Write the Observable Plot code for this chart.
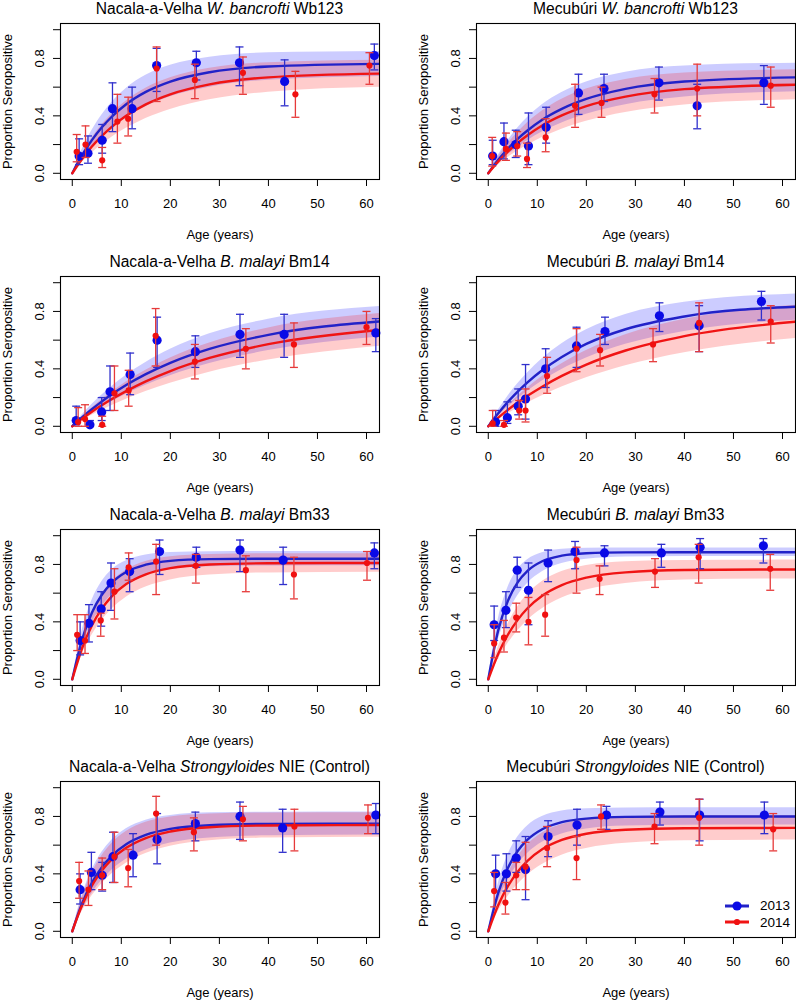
<!DOCTYPE html>
<html><head><meta charset="utf-8">
<script src="https://cdn.jsdelivr.net/npm/d3@7"></script>
<script src="https://cdn.jsdelivr.net/npm/@observablehq/plot@0.6"></script>
<style>
body{margin:0;background:#fff;}
#page{position:relative;width:796px;height:1000px;overflow:hidden;background:#fff;font-family:"Liberation Sans",Arial,Helvetica,sans-serif;color:#000;}
.panel{position:absolute;width:398px;height:250px;}
.panel svg{position:absolute;left:0;top:0;}
.ptitle{position:absolute;left:60px;width:319px;top:1px;text-align:center;font-size:15.6px;line-height:15.6px;white-space:nowrap;}
.legrow{position:absolute;left:724px;height:16px;display:flex;align-items:center;font-size:13.5px;}
.legrow span{margin-left:10px;}
</style></head>
<body><div id="page"></div>
<script>
// ---------- shared axes ----------
const xTicks = [0, 10, 20, 30, 40, 50, 60];
const yTicks = [0, 0.2, 0.4, 0.6, 0.8, 1.0];
const yTickLabelled = [0, 0.4, 0.8];
const xTitle = "Age (years)";
const yTitle = "Proportion Seropositive";
const seriesNames = ["2013", "2014"];
const fitAges = [0, 2, 4, 6, 8, 11, 15, 20, 28, 40, 62.65];

// ---------- Panel 1: Nacala-a-Velha W. bancrofti Wb123 ----------
const p1_13_age = [1.4, 3.2, 6.1, 8.2, 12.2, 17.2, 25.3, 34.1, 43.3, 61.6];
const p1_13_p   = [0.12, 0.14, 0.23, 0.45, 0.45, 0.75, 0.77, 0.77, 0.64, 0.82];
const p1_13_lo  = [0.06, 0.07, 0.14, 0.29, 0.31, 0.57, 0.65, 0.61, 0.47, 0.72];
const p1_13_hi  = [0.24, 0.26, 0.34, 0.63, 0.60, 0.87, 0.85, 0.88, 0.79, 0.90];
const p1_14_age = [0.9, 2.7, 6.1, 9.2, 11.4, 17.2, 25.0, 34.8, 45.5, 60.6];
const p1_14_p   = [0.15, 0.20, 0.09, 0.36, 0.38, 0.73, 0.65, 0.70, 0.55, 0.75];
const p1_14_lo  = [0.08, 0.11, 0.04, 0.21, 0.26, 0.50, 0.52, 0.55, 0.39, 0.62];
const p1_14_hi  = [0.27, 0.33, 0.18, 0.55, 0.53, 0.88, 0.76, 0.81, 0.71, 0.84];
const p1_13_fit   = [0, 0.126, 0.231, 0.319, 0.392, 0.481, 0.567, 0.639, 0.704, 0.744, 0.762];
const p1_13_fitLo = [0, 0.097, 0.180, 0.250, 0.311, 0.387, 0.464, 0.533, 0.600, 0.648, 0.674];
const p1_13_fitHi = [0, 0.165, 0.298, 0.405, 0.492, 0.591, 0.682, 0.752, 0.808, 0.839, 0.849];
const p1_14_fit   = [0, 0.100, 0.186, 0.259, 0.322, 0.400, 0.480, 0.550, 0.619, 0.668, 0.694];
const p1_14_fitLo = [0, 0.075, 0.141, 0.198, 0.249, 0.313, 0.382, 0.445, 0.512, 0.565, 0.600];
const p1_14_fitHi = [0, 0.134, 0.244, 0.336, 0.412, 0.504, 0.593, 0.665, 0.731, 0.770, 0.788];

// ---------- Panel 2: Mecubúri W. bancrofti Wb123 ----------
const p2_13_age = [0.9, 3.2, 5.6, 8.2, 11.8, 18.4, 23.6, 34.8, 42.6, 56.2];
const p2_13_p   = [0.12, 0.22, 0.20, 0.19, 0.32, 0.56, 0.59, 0.63, 0.47, 0.63];
const p2_13_lo  = [0.06, 0.10, 0.11, 0.06, 0.21, 0.41, 0.50, 0.51, 0.31, 0.48];
const p2_13_hi  = [0.23, 0.35, 0.30, 0.42, 0.46, 0.69, 0.69, 0.74, 0.62, 0.75];
const p2_14_age = [0.8, 3.6, 5.9, 7.9, 11.7, 17.7, 23.1, 33.9, 42.6, 57.6];
const p2_14_p   = [0.12, 0.17, 0.19, 0.10, 0.25, 0.47, 0.49, 0.55, 0.59, 0.61];
const p2_14_lo  = [0.05, 0.09, 0.12, 0.04, 0.15, 0.32, 0.39, 0.42, 0.40, 0.46];
const p2_14_hi  = [0.25, 0.28, 0.29, 0.21, 0.38, 0.62, 0.60, 0.66, 0.76, 0.74];
const p2_13_fit   = [0, 0.092, 0.171, 0.240, 0.298, 0.373, 0.449, 0.518, 0.588, 0.639, 0.668];
const p2_13_fitLo = [0, 0.068, 0.128, 0.180, 0.227, 0.287, 0.351, 0.412, 0.478, 0.531, 0.568];
const p2_13_fitHi = [0, 0.124, 0.227, 0.315, 0.388, 0.477, 0.563, 0.636, 0.704, 0.747, 0.767];
const p2_14_fit   = [0, 0.081, 0.151, 0.212, 0.265, 0.333, 0.403, 0.468, 0.534, 0.586, 0.617];
const p2_14_fitLo = [0, 0.058, 0.110, 0.156, 0.196, 0.249, 0.307, 0.362, 0.423, 0.475, 0.512];
const p2_14_fitHi = [0, 0.111, 0.205, 0.284, 0.352, 0.434, 0.516, 0.587, 0.654, 0.699, 0.721];

// ---------- Panel 3: Nacala-a-Velha B. malayi Bm14 ----------
const p3_13_age = [0.8, 3.6, 6.0, 7.7, 11.8, 17.3, 25.1, 34.2, 43.2, 61.9];
const p3_13_p   = [0.04, 0.01, 0.10, 0.24, 0.36, 0.60, 0.52, 0.64, 0.64, 0.65];
const p3_13_lo  = [0.01, 0.00, 0.04, 0.11, 0.22, 0.41, 0.41, 0.48, 0.48, 0.52];
const p3_13_hi  = [0.14, 0.04, 0.20, 0.42, 0.51, 0.76, 0.63, 0.78, 0.78, 0.75];
const p3_14_age = [1.2, 2.6, 6.1, 8.6, 11.5, 17.0, 25.0, 35.4, 45.2, 60.0];
const p3_14_p   = [0.03, 0.05, 0.01, 0.23, 0.25, 0.63, 0.45, 0.54, 0.57, 0.69];
const p3_14_lo  = [0.00, 0.00, 0.00, 0.11, 0.14, 0.42, 0.33, 0.40, 0.41, 0.57];
const p3_14_hi  = [0.13, 0.15, 0.07, 0.42, 0.39, 0.82, 0.57, 0.68, 0.72, 0.80];
const p3_13_fit   = [0, 0.062, 0.119, 0.172, 0.221, 0.287, 0.363, 0.442, 0.539, 0.637, 0.730];
const p3_13_fitLo = [0, 0.048, 0.092, 0.132, 0.171, 0.224, 0.286, 0.352, 0.437, 0.527, 0.622];
const p3_13_fitHi = [0, 0.079, 0.151, 0.216, 0.276, 0.356, 0.445, 0.536, 0.644, 0.746, 0.834];
const p3_14_fit   = [0, 0.052, 0.101, 0.146, 0.188, 0.245, 0.313, 0.385, 0.476, 0.572, 0.671];
const p3_14_fitLo = [0, 0.039, 0.076, 0.111, 0.143, 0.188, 0.242, 0.300, 0.377, 0.462, 0.557];
const p3_14_fitHi = [0, 0.067, 0.128, 0.185, 0.238, 0.309, 0.390, 0.476, 0.580, 0.685, 0.785];

// ---------- Panel 4: Mecubúri B. malayi Bm14 ----------
const p4_13_age = [1.5, 3.9, 6.1, 7.6, 11.7, 18.0, 23.8, 34.9, 43.0, 55.7];
const p4_13_p   = [0.03, 0.06, 0.14, 0.19, 0.40, 0.56, 0.66, 0.77, 0.70, 0.87];
const p4_13_lo  = [0.00, 0.02, 0.08, 0.05, 0.27, 0.41, 0.57, 0.66, 0.52, 0.74];
const p4_13_hi  = [0.11, 0.17, 0.26, 0.43, 0.54, 0.69, 0.76, 0.86, 0.84, 0.94];
const p4_14_age = [0.9, 3.2, 6.3, 7.6, 12.0, 18.0, 22.8, 33.6, 43.0, 57.6];
const p4_14_p   = [0.02, 0.01, 0.11, 0.11, 0.35, 0.54, 0.53, 0.57, 0.72, 0.73];
const p4_14_lo  = [0.00, 0.00, 0.05, 0.03, 0.23, 0.38, 0.42, 0.45, 0.52, 0.58];
const p4_14_hi  = [0.11, 0.04, 0.18, 0.26, 0.48, 0.68, 0.64, 0.68, 0.86, 0.84];
const p4_13_fit   = [0, 0.089, 0.170, 0.242, 0.306, 0.390, 0.483, 0.574, 0.676, 0.765, 0.833];
const p4_13_fitLo = [0, 0.070, 0.134, 0.192, 0.244, 0.315, 0.395, 0.475, 0.571, 0.661, 0.739];
const p4_13_fitHi = [0, 0.111, 0.210, 0.296, 0.372, 0.470, 0.575, 0.673, 0.779, 0.864, 0.922];
const p4_14_fit   = [0, 0.059, 0.114, 0.165, 0.212, 0.276, 0.351, 0.430, 0.528, 0.628, 0.728];
const p4_14_fitLo = [0, 0.045, 0.087, 0.126, 0.162, 0.213, 0.273, 0.338, 0.422, 0.513, 0.612];
const p4_14_fitHi = [0, 0.076, 0.145, 0.209, 0.267, 0.346, 0.435, 0.527, 0.637, 0.745, 0.843];

// ---------- Panel 5: Nacala-a-Velha B. malayi Bm33 ----------
const p5_13_age = [1.6, 3.4, 5.9, 7.9, 11.7, 17.8, 25.3, 34.2, 43.0, 61.6];
const p5_13_p   = [0.27, 0.39, 0.49, 0.67, 0.75, 0.89, 0.85, 0.90, 0.83, 0.88];
const p5_13_lo  = [0.17, 0.26, 0.37, 0.48, 0.61, 0.73, 0.78, 0.75, 0.66, 0.77];
const p5_13_hi  = [0.40, 0.52, 0.61, 0.81, 0.84, 0.97, 0.92, 0.97, 0.92, 0.95];
const p5_14_age = [1.0, 2.6, 5.8, 8.6, 11.5, 17.1, 25.2, 35.4, 45.2, 60.1];
const p5_14_p   = [0.31, 0.27, 0.41, 0.61, 0.78, 0.82, 0.79, 0.76, 0.73, 0.81];
const p5_14_lo  = [0.20, 0.18, 0.30, 0.42, 0.69, 0.59, 0.67, 0.61, 0.56, 0.69];
const p5_14_hi  = [0.45, 0.45, 0.46, 0.77, 0.88, 0.94, 0.87, 0.86, 0.85, 0.89];
const p5_13_fit   = [0, 0.277, 0.463, 0.587, 0.670, 0.747, 0.798, 0.825, 0.837, 0.840, 0.840];
const p5_13_fitLo = [0, 0.228, 0.390, 0.505, 0.587, 0.668, 0.728, 0.764, 0.783, 0.789, 0.790];
const p5_13_fitHi = [0, 0.339, 0.549, 0.679, 0.760, 0.826, 0.866, 0.883, 0.889, 0.890, 0.890];
const p5_14_fit   = [0, 0.216, 0.374, 0.490, 0.576, 0.663, 0.731, 0.774, 0.799, 0.808, 0.810];
const p5_14_fitLo = [0, 0.173, 0.306, 0.408, 0.486, 0.571, 0.642, 0.692, 0.727, 0.741, 0.745];
const p5_14_fitHi = [0, 0.272, 0.459, 0.588, 0.677, 0.762, 0.821, 0.854, 0.870, 0.874, 0.875];

// ---------- Panel 6: Mecubúri B. malayi Bm33 ----------
const p6_13_age = [1.2, 3.6, 5.9, 8.2, 12.2, 17.7, 23.7, 35.3, 43.2, 56.1];
const p6_13_p   = [0.38, 0.48, 0.76, 0.62, 0.81, 0.89, 0.88, 0.88, 0.92, 0.93];
const p6_13_lo  = [0.27, 0.36, 0.64, 0.38, 0.68, 0.77, 0.79, 0.78, 0.77, 0.81];
const p6_13_hi  = [0.51, 0.61, 0.85, 0.81, 0.90, 0.96, 0.93, 0.94, 0.98, 0.98];
const p6_14_age = [1.2, 3.2, 5.7, 8.2, 11.6, 18.0, 22.7, 34.0, 42.9, 57.5];
const p6_14_p   = [0.25, 0.29, 0.43, 0.40, 0.45, 0.83, 0.70, 0.75, 0.85, 0.77];
const p6_14_lo  = [0.15, 0.19, 0.33, 0.24, 0.30, 0.60, 0.59, 0.64, 0.67, 0.62];
const p6_14_hi  = [0.38, 0.41, 0.53, 0.57, 0.59, 0.92, 0.79, 0.84, 0.94, 0.87];
const p6_13_fit   = [0, 0.337, 0.546, 0.675, 0.755, 0.822, 0.861, 0.878, 0.884, 0.885, 0.885];
const p6_13_fitLo = [0, 0.270, 0.455, 0.582, 0.668, 0.749, 0.806, 0.836, 0.851, 0.855, 0.855];
const p6_13_fitHi = [0, 0.413, 0.639, 0.764, 0.832, 0.881, 0.905, 0.913, 0.915, 0.915, 0.915];
const p6_14_fit   = [0, 0.175, 0.310, 0.414, 0.495, 0.582, 0.656, 0.708, 0.745, 0.761, 0.765];
const p6_14_fitLo = [0, 0.138, 0.249, 0.338, 0.410, 0.491, 0.566, 0.622, 0.668, 0.691, 0.699];
const p6_14_fitHi = [0, 0.222, 0.385, 0.504, 0.592, 0.681, 0.750, 0.793, 0.819, 0.828, 0.830];

// ---------- Panel 7: Nacala-a-Velha Strongyloides NIE (Control) ----------
const p7_13_age = [1.6, 3.9, 6.1, 8.3, 12.4, 17.3, 25.1, 34.2, 42.9, 61.9];
const p7_13_p   = [0.29, 0.41, 0.39, 0.52, 0.53, 0.64, 0.75, 0.80, 0.72, 0.81];
const p7_13_lo  = [0.19, 0.29, 0.28, 0.34, 0.38, 0.47, 0.63, 0.64, 0.55, 0.68];
const p7_13_hi  = [0.40, 0.55, 0.48, 0.69, 0.68, 0.82, 0.83, 0.90, 0.85, 0.89];
const p7_14_age = [1.4, 3.3, 6.1, 8.6, 11.4, 17.1, 24.8, 34.8, 45.3, 60.3];
const p7_14_p   = [0.35, 0.29, 0.39, 0.52, 0.44, 0.82, 0.69, 0.78, 0.73, 0.79];
const p7_14_lo  = [0.23, 0.18, 0.29, 0.34, 0.31, 0.60, 0.56, 0.63, 0.56, 0.68];
const p7_14_hi  = [0.48, 0.42, 0.51, 0.69, 0.57, 0.94, 0.79, 0.87, 0.85, 0.88];
const p7_13_fit   = [0, 0.194, 0.338, 0.445, 0.524, 0.606, 0.671, 0.713, 0.739, 0.748, 0.750];
const p7_13_fitLo = [0, 0.148, 0.264, 0.353, 0.424, 0.501, 0.567, 0.615, 0.650, 0.665, 0.670];
const p7_13_fitHi = [0, 0.251, 0.426, 0.548, 0.633, 0.715, 0.774, 0.807, 0.825, 0.829, 0.830];
const p7_14_fit   = [0, 0.181, 0.317, 0.421, 0.499, 0.581, 0.649, 0.695, 0.725, 0.737, 0.740];
const p7_14_fitLo = [0, 0.137, 0.245, 0.330, 0.398, 0.474, 0.542, 0.592, 0.630, 0.649, 0.655];
const p7_14_fitHi = [0, 0.235, 0.404, 0.524, 0.610, 0.695, 0.759, 0.796, 0.817, 0.824, 0.825];

// ---------- Panel 8: Mecubúri Strongyloides NIE (Control) ----------
const p8_13_age = [1.5, 3.7, 5.7, 7.6, 12.2, 18.1, 24.1, 35.0, 43.1, 56.3];
const p8_13_p   = [0.40, 0.40, 0.51, 0.43, 0.66, 0.74, 0.81, 0.83, 0.81, 0.81];
const p8_13_lo  = [0.28, 0.28, 0.41, 0.22, 0.52, 0.60, 0.71, 0.74, 0.63, 0.68];
const p8_13_hi  = [0.53, 0.54, 0.63, 0.66, 0.77, 0.85, 0.87, 0.90, 0.92, 0.90];
const p8_14_age = [1.2, 3.5, 5.7, 7.6, 12.0, 18.0, 23.0, 33.9, 43.0, 58.1];
const p8_14_p   = [0.28, 0.20, 0.39, 0.45, 0.58, 0.51, 0.80, 0.73, 0.79, 0.71];
const p8_14_lo  = [0.17, 0.12, 0.29, 0.29, 0.45, 0.36, 0.71, 0.61, 0.60, 0.56];
const p8_14_hi  = [0.41, 0.34, 0.48, 0.62, 0.73, 0.66, 0.88, 0.82, 0.92, 0.82];
const p8_13_fit   = [0, 0.264, 0.441, 0.559, 0.638, 0.711, 0.760, 0.785, 0.797, 0.800, 0.800];
const p8_13_fitLo = [0, 0.208, 0.357, 0.465, 0.542, 0.620, 0.678, 0.713, 0.733, 0.739, 0.740];
const p8_13_fitHi = [0, 0.328, 0.531, 0.656, 0.734, 0.799, 0.837, 0.853, 0.859, 0.860, 0.860];
const p8_14_fit   = [0, 0.179, 0.314, 0.415, 0.491, 0.571, 0.636, 0.679, 0.707, 0.718, 0.720];
const p8_14_fitLo = [0, 0.136, 0.242, 0.326, 0.392, 0.465, 0.530, 0.577, 0.613, 0.630, 0.635];
const p8_14_fitHi = [0, 0.234, 0.400, 0.518, 0.602, 0.684, 0.744, 0.779, 0.798, 0.804, 0.805];

// ---------- panel titles ----------
const titles = [
  ["Nacala-a-Velha ", "W. bancrofti", " Wb123"],
  ["Mecubúri ", "W. bancrofti", " Wb123"],
  ["Nacala-a-Velha ", "B. malayi", " Bm14"],
  ["Mecubúri ", "B. malayi", " Bm14"],
  ["Nacala-a-Velha ", "B. malayi", " Bm33"],
  ["Mecubúri ", "B. malayi", " Bm33"],
  ["Nacala-a-Velha ", "Strongyloides", " NIE (Control)"],
  ["Mecubúri ", "Strongyloides", " NIE (Control)"]
];

const panelData = [
  [[p1_13_age, p1_13_p, p1_13_lo, p1_13_hi], [p1_14_age, p1_14_p, p1_14_lo, p1_14_hi], [p1_13_fit, p1_13_fitLo, p1_13_fitHi], [p1_14_fit, p1_14_fitLo, p1_14_fitHi]],
  [[p2_13_age, p2_13_p, p2_13_lo, p2_13_hi], [p2_14_age, p2_14_p, p2_14_lo, p2_14_hi], [p2_13_fit, p2_13_fitLo, p2_13_fitHi], [p2_14_fit, p2_14_fitLo, p2_14_fitHi]],
  [[p3_13_age, p3_13_p, p3_13_lo, p3_13_hi], [p3_14_age, p3_14_p, p3_14_lo, p3_14_hi], [p3_13_fit, p3_13_fitLo, p3_13_fitHi], [p3_14_fit, p3_14_fitLo, p3_14_fitHi]],
  [[p4_13_age, p4_13_p, p4_13_lo, p4_13_hi], [p4_14_age, p4_14_p, p4_14_lo, p4_14_hi], [p4_13_fit, p4_13_fitLo, p4_13_fitHi], [p4_14_fit, p4_14_fitLo, p4_14_fitHi]],
  [[p5_13_age, p5_13_p, p5_13_lo, p5_13_hi], [p5_14_age, p5_14_p, p5_14_lo, p5_14_hi], [p5_13_fit, p5_13_fitLo, p5_13_fitHi], [p5_14_fit, p5_14_fitLo, p5_14_fitHi]],
  [[p6_13_age, p6_13_p, p6_13_lo, p6_13_hi], [p6_14_age, p6_14_p, p6_14_lo, p6_14_hi], [p6_13_fit, p6_13_fitLo, p6_13_fitHi], [p6_14_fit, p6_14_fitLo, p6_14_fitHi]],
  [[p7_13_age, p7_13_p, p7_13_lo, p7_13_hi], [p7_14_age, p7_14_p, p7_14_lo, p7_14_hi], [p7_13_fit, p7_13_fitLo, p7_13_fitHi], [p7_14_fit, p7_14_fitLo, p7_14_fitHi]],
  [[p8_13_age, p8_13_p, p8_13_lo, p8_13_hi], [p8_14_age, p8_14_p, p8_14_lo, p8_14_hi], [p8_13_fit, p8_13_fitLo, p8_13_fitHi], [p8_14_fit, p8_14_fitLo, p8_14_fitHi]]
];

// ---------- styling ----------
const FONT = '"Liberation Sans", Arial, Helvetica, sans-serif';
const COL = {
  "2013": {dot: "#0a0ae6", bar: "#3030cc", line: "#2222c8", band: "#0000ff"},
  "2014": {dot: "#f01010", bar: "#e63a3a", line: "#f01414", band: "#ff0000"}
};
const capSymbol = {draw(ctx, size) { const w = Math.sqrt(size / Math.PI); ctx.moveTo(-w, 0); ctx.lineTo(w, 0); }};

const toPoints = ([age, p, lo, hi]) => age.map((a, i) => ({age: a, p: p[i], lo: lo[i], hi: hi[i]}));
const toFit = ([m, lo, hi]) => fitAges.map((a, i) => ({age: a, m: m[i], lo: lo[i], hi: hi[i]}));

function seriesMarks(pts, fitRows, c, dotR) {
  return {
    band: Plot.areaY(fitRows, {x: "age", y1: "lo", y2: "hi", fill: c.band, fillOpacity: 0.2, curve: "monotone-x", clip: true}),
    line: Plot.line(fitRows, {x: "age", y: "m", stroke: c.line, strokeWidth: 2.4, curve: "monotone-x", clip: true}),
    bars: [
      Plot.ruleX(pts, {x: "age", y1: "lo", y2: "hi", stroke: c.bar, strokeWidth: 1.3}),
      Plot.dot(pts, {x: "age", y: "lo", symbol: capSymbol, r: 4, fill: "none", stroke: c.bar, strokeWidth: 1.3}),
      Plot.dot(pts, {x: "age", y: "hi", symbol: capSymbol, r: 4, fill: "none", stroke: c.bar, strokeWidth: 1.3}),
      Plot.dot(pts, {x: "age", y: "p", r: dotR, fill: c.dot, stroke: "none"})
    ]
  };
}

function makePanel(idx) {
  const [s13, s14, f13, f14] = panelData[idx];
  const A = seriesMarks(toPoints(s13), toFit(f13), COL["2013"], 4.6);
  const B = seriesMarks(toPoints(s14), toFit(f14), COL["2014"], 3.1);
  return Plot.plot({
    width: 398, height: 250,
    marginLeft: 60, marginRight: 19, marginTop: 23, marginBottom: 71,
    style: {fontFamily: FONT, fontSize: "13px", color: "black", background: "transparent", overflow: "visible"},
    x: {domain: [-2.4, 62.65], label: null},
    y: {domain: [-0.0433, 1.0433], label: null},
    marks: [
      A.band, B.band, A.line, B.line,
      ...A.bars, ...B.bars,
      Plot.frame({stroke: "black", strokeWidth: 1.1}),
      Plot.axisX({ticks: xTicks, tickSize: 7, tickPadding: 12, label: null}),
      Plot.axisY({ticks: yTicks, tickSize: 7, tickPadding: 10, tickRotate: -90, label: null,
        tickFormat: d => yTickLabelled.includes(d) ? d.toFixed(1) : ""}),
      Plot.text([yTitle], {frameAnchor: "left", dx: -53, rotate: -90, text: d => d, textAnchor: "middle", lineAnchor: "middle"}),
      Plot.text([xTitle], {frameAnchor: "bottom", dy: 55, text: d => d, textAnchor: "middle", lineAnchor: "middle"})
    ]
  });
}

const page = document.getElementById("page");
for (let i = 0; i < 8; i++) {
  const col = i % 2, row = Math.floor(i / 2);
  const div = document.createElement("div");
  div.className = "panel";
  div.style.left = (col * 416) + "px";
  div.style.top = (row * 252.8) + "px";
  div.appendChild(makePanel(i));
  const t = document.createElement("div");
  t.className = "ptitle";
  const [a, b, c] = titles[i];
  t.appendChild(document.createTextNode(a));
  const it = document.createElement("i");
  it.textContent = b;
  t.appendChild(it);
  t.appendChild(document.createTextNode(c));
  div.appendChild(t);
  page.appendChild(div);
}

// legend (bottom-right panel)
const legTops = [897.7, 914.3];
seriesNames.forEach((name, k) => {
  const row = document.createElement("div");
  row.className = "legrow";
  row.style.top = legTops[k] + "px";
  const c = COL[name];
  const r = k === 0 ? 4.6 : 3.1;
  row.innerHTML = `<svg width="26" height="16"><line x1="1" y1="8" x2="25" y2="8" stroke="${c.line}" stroke-width="3"/><circle cx="13" cy="8" r="${r}" fill="${c.dot}"/></svg><span>${name}</span>`;
  page.appendChild(row);
});
</script>
</body></html>
